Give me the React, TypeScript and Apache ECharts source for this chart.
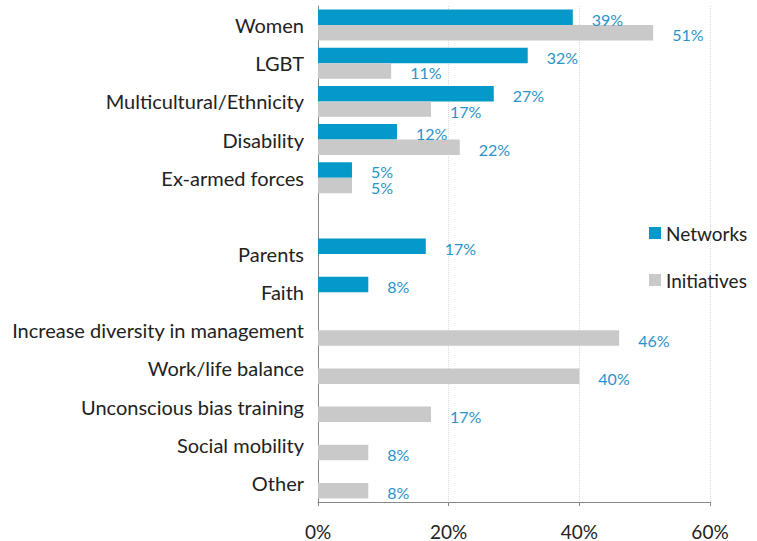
import React, { useEffect, useRef } from "react";
import * as echarts from "echarts";

const categories = [
  "Women",
  "LGBT",
  "Multicultural/Ethnicity",
  "Disability",
  "Ex-armed forces",
  "",
  "Parents",
  "Faith",
  "Increase diversity in management",
  "Work/life balance",
  "Unconscious bias training",
  "Social mobility",
  "Other",
];

const networks = [39.0, 32.1, 26.9, 12.1, 5.2, null, 16.5, 7.7, null, null, null, null, null];
const initiatives = [51.3, 11.2, 17.3, 21.7, 5.2, null, null, null, 46.1, 40.0, 17.3, 7.7, 7.7];

const xTicks = [0, 20, 40, 60];

const FONT = "Lato, 'Open Sans', sans-serif";

export default function App() {
  const ref = useRef<HTMLDivElement>(null);
  useEffect(() => {
    if (!ref.current) return;
    const chart = echarts.init(ref.current, null, { renderer: "svg" });
    const labelCfg = {
      show: true,
      position: "right",
      distance: 19,
      offset: [0, 2],
      color: "#2a93c9",
      fontSize: 16,
      lineHeight: 14,
      fontFamily: FONT,
      formatter: (p: any) => (p.value == null ? "" : Math.round(p.value) + "%"),
    };
    chart.setOption({
      animation: false,
      textStyle: { fontFamily: FONT },
      grid: { left: 318, top: 6, width: 392, height: 496 },
      legend: {
        orient: "vertical",
        left: 649,
        top: 223,
        padding: 0,
        itemWidth: 12,
        itemHeight: 12,
        itemGap: 27,
        icon: "rect",
        textStyle: { fontSize: 19, lineHeight: 20, color: "#222", fontFamily: FONT },
        data: ["Networks", "Initiatives"],
      },
      xAxis: {
        type: "value",
        min: xTicks[0],
        max: xTicks[xTicks.length - 1],
        interval: 20,
        axisLine: { show: true, lineStyle: { color: "#868686" } },
        axisTick: { show: true, length: 4, lineStyle: { color: "#868686" } },
        axisLabel: {
          formatter: "{value}%",
          fontSize: 19,
          lineHeight: 16,
          color: "#222",
          margin: 21,
          fontFamily: FONT,
        },
        splitLine: { show: true, lineStyle: { color: "#d9d9d9", type: "dotted" } },
      },
      yAxis: {
        type: "category",
        data: categories,
        inverse: true,
        axisLine: { show: true, lineStyle: { color: "#868686" } },
        axisTick: { show: false },
        axisLabel: { fontSize: 20, color: "#222", margin: 14, fontFamily: FONT },
      },
      series: [
        {
          name: "Networks",
          type: "bar",
          data: networks,
          barGap: "0%",
          barCategoryGap: "19%",
          itemStyle: { color: "#0499c9" },
          label: labelCfg,
        },
        {
          name: "Initiatives",
          type: "bar",
          data: initiatives,
          barGap: "0%",
          barCategoryGap: "19%",
          itemStyle: { color: "#c9c9c9" },
          label: labelCfg,
        },
      ],
    });
    return () => chart.dispose();
  }, []);
  return (
    <div
      ref={ref}
      style={{ position: "absolute", left: 0, top: 0, width: 757, height: 541 }}
    />
  );
}
